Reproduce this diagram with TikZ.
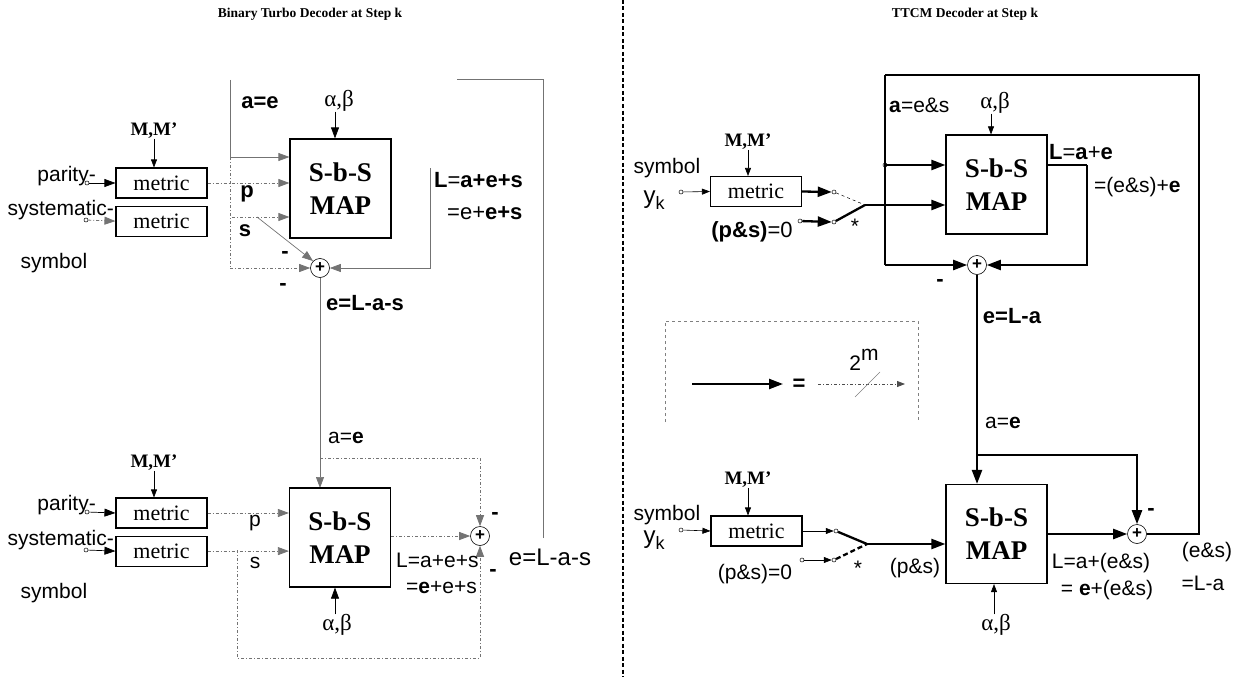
\documentclass[tikz,border=0pt]{standalone}
\usepackage{fontspec}
\setmainfont{Liberation Serif}
\setsansfont{Liberation Sans}
\usetikzlibrary{arrows.meta, positioning, calc}
\newcommand{\sbsmap}{S-b-S\\MAP}
\newcommand{\yk}{y\raisebox{-6pt}{\fontsize{18}{18}\selectfont k}}

\begin{document}
\begin{tikzpicture}[
    x=1pt, y=-1pt,
    mapbox/.style={draw, line width=1.2pt, minimum width=101pt, minimum height=99pt,
                   align=center, inner sep=0pt, font=\fontsize{27}{33}\selectfont\bfseries},
    metricbox/.style={draw, line width=1.1pt, minimum width=91pt, minimum height=30pt,
                      inner sep=0pt, font=\fontsize{22}{24}\selectfont},
    adder/.style={circle, draw, line width=0.6pt, minimum size=19pt, inner sep=0pt,
                  font=\sffamily\bfseries\fontsize{17}{17}\selectfont},
    term/.style={circle, draw, line width=0.5pt, minimum size=4pt, inner sep=0pt},
    lbl/.style={font=\sffamily\fontsize{21}{23}\selectfont, inner sep=0pt},
    blbl/.style={inner sep=0pt, font=\sffamily\bfseries\fontsize{22}{24}\selectfont},
    mlbl/.style={inner sep=0pt, font=\bfseries\fontsize{19}{21}\selectfont},
    glbl/.style={inner sep=0pt, font=\fontsize{23}{25}\selectfont},
    ttl/.style={font=\bfseries\fontsize{13.5}{15}\selectfont},
    arr/.style={-{Triangle[length=11pt,width=8pt]}, line width=0.7pt},
    sarr/.style={-{Triangle[length=8pt,width=6pt]}, line width=0.6pt},
    faint/.style={line width=0.7pt, black!55},
    dotl/.style={line width=0.8pt, black!55, dash pattern=on 3pt off 2pt on 1pt off 2pt},
    thk/.style={line width=2.3pt},
    tarr/.style={thk, -{Triangle[length=14pt,width=10pt]}},
    divider/.style={line width=2pt, dash pattern=on 4pt off 2.5pt},
]
\useasboundingbox (0,0) rectangle (1240,677);

% Titles and divider
\node[ttl] (ttlbin)  at (310,14) {Binary Turbo Decoder at Step k};
\node[ttl] (ttlttcm) at (965,14) {TTCM Decoder at Step k};
\draw[divider] (623,0) -- (623,677);

%% ================= Binary turbo decoder, first decoder
\node[metricbox] (met1) at (161.5,183) {metric};
\node[metricbox, below=7pt of met1] (met2) {metric};
\node[mapbox] (map1) at (340.5,188.5) {\sbsmap};
\node[adder] (add1) at (320,268) {+};

\node[mlbl] (mm1) at (154,131) {M,M’};
\node[term] (t1) at (87,183) {};
\node[term] (t2) at (86,220) {};
\node[lbl, anchor=east] (lpar1) at (96,176) {parity-};
\node[lbl, anchor=east] (lsys1) at (114,210) {systematic-};
\node[lbl] (lsym1) at (54,263) {symbol};
\node[glbl] (ab1) at (339,101) {α,β};

\coordinate (atop) at (230,80);
\coordinate (ajn)  at (230,157);
\coordinate (acor) at (230,268);
\coordinate (sin)  at (232,217);
\coordinate (sdg)  at (257,217);
\coordinate (lout) at (430,168);

\draw[sarr] (mm1.south) -- (mm1.south |- met1.north);
\draw[arr] (t1) -- (met1.west);
\draw[arr, dotl] (t2) -- (met2.west);
\draw[arr] (ab1.south -| 335,0) -- (335,0 |- map1.north);

% a, p, s inputs
\draw[faint] (atop) -- (ajn);
\draw[arr, faint] (ajn) -- (map1.west |- ajn);
\draw[dotl] (ajn) -- (acor);
\draw[arr, dotl] (acor) -- (add1.west);
\draw[arr, dotl] (met1.east) -- (map1.west |- met1.east);
\draw[arr, dotl] (sin) -- (map1.west |- sin);
\draw[arr, faint] (sdg) -- (add1.north west);
\draw[arr, faint] (lout) |- (add1.east);
\draw[arr, faint] (add1.south) -- (add1.south |- 0,488);

\node[blbl] (la1) at (260,103) {\textbf{a}=e};
\node[blbl] (lp1) at (247,194) {p};
\node[blbl] (ls1) at (245,231) {s};
\node[blbl] (lm1) at (285,255) {-};
\node[blbl] (lm2) at (283,287) {-};
\node[blbl, anchor=west] (lL1) at (434,180) {L\textmd{=}a+e+s};
\node[blbl, anchor=west] (lL2) at (447,213) {\textmd{=e+}e+s};
\node[blbl] (le1) at (365,303) {e=L-a-s};
\node[lbl] (la2) at (346,438) {a=\textbf{e}};

%% ================= Binary turbo decoder, second decoder
\node[metricbox] (met3) at (161.5,513) {metric};
\node[metricbox, below=7pt of met3] (met4) {metric};
\node[mapbox] (map2) at (340,537.5) {\sbsmap};
\node[adder] (add2) at (480,536) {+};

\node[mlbl] (mm2) at (154,463) {M,M’};
\node[term] (t3) at (87,512) {};
\node[term] (t4) at (86,550) {};
\node[lbl, anchor=east] (lpar2) at (96,505) {parity-};
\node[lbl, anchor=east] (lsys2) at (114,540) {systematic-};
\node[lbl] (lsym2) at (54,593) {symbol};
\node[glbl] (ab2) at (337,625) {α,β};

\coordinate (sb)   at (237,550);
\coordinate (sbot) at (237,658);
\coordinate (abr)  at (320,458);
\coordinate (ebot) at (543,538);
\coordinate (etop) at (543,79);
\coordinate (eend) at (457,79);

\draw[sarr] (mm2.south) -- (mm2.south |- met3.north);
\draw[arr] (t3) -- (met3.west);
\draw[arr] (t4) -- (met4.west);
\draw[arr] (ab2.north -| 335,0) -- (335,0 |- map2.south);
\draw[arr, dotl] (met3.east) -- (map2.west |- met3.east);
\draw[arr, dotl] (met4.east) -- (map2.west |- met4.east);
\draw[arr, dotl] (sb) -- (sbot) -| (add2.south);
\draw[arr, dotl] (abr) -| (add2.north);
\draw[arr, dotl] (map2.east |- add2) -- (add2.west);
\draw[faint] (ebot) -- (etop) -- (eend);

\node[lbl] (lp2) at (255,523) {p};
\node[lbl] (ls2) at (255,563) {s};
\node[blbl] (lm3) at (495,516) {-};
\node[blbl] (lm4) at (493,573) {-};
\node[lbl, anchor=west] (lL3) at (396,560) {L=a+e+s};
\node[lbl, anchor=west] (lL4) at (406,588) {=\textbf{e}+e+s};
\node[lbl, font=\sffamily\fontsize{24}{26}\selectfont] (le2) at (550,557) {e=L-a-s};

%% ================= TTCM decoder, first decoder
\node[metricbox] (met5) at (756,191.5) {metric};
\node[mapbox] (map3) at (996.5,184.5) {\sbsmap};
\node[adder] (add3) at (977,265) {+};

\node[mlbl] (mm3) at (748,142) {M,M’};
\node[term] (t5) at (681,192) {};
\node[term] (t6) at (800,221) {};
\node[term] (c1) at (834,192) {};
\node[term] (c2) at (834,222) {};
\coordinate (pv1) at (865,205);
\node[lbl] (lsym3) at (667,168) {symbol};
\node[lbl, font=\sffamily\fontsize{24}{26}\selectfont] (ly1) at (654,200) {\yk};
\node[glbl] (ab3) at (995,103) {α,β};

\coordinate (lp) at (885,75);
\coordinate (ajn2) at (885,165);
\coordinate (lpb) at (885,265);
\coordinate (lc) at (1087,165);

\draw[sarr] (mm3.south) -- (mm3.south |- met5.north);
\draw[sarr] (t5) -- (met5.west);
\draw[tarr] (met5.east) -- (c1.west);
\draw[tarr] (t6) -- (c2.west);
\draw[dashed, line width=0.5pt] (c1) -- (pv1);
\draw[thk] (c2) -- (pv1);
\draw[tarr] (pv1) -- (map3.west |- pv1);
\draw[sarr] (ab3.south -| 991,0) -- (991,0 |- map3.north);

% feedback loop
\draw[thk] (lp) -- (lpb);
\draw[tarr] (lpb) -- (add3.west);
\draw[tarr] (ajn2) -- (map3.west |- ajn2);
\node[term] (j1) at (ajn2) {};
\draw[thk] (map3.east |- lc) -- (lc);
\draw[tarr] (lc) |- (add3.east);

\node[lbl, anchor=west] (la3) at (889,105) {\textbf{a}=e\&s};
\node[blbl] (lps1) at (752,232) {(p\&s)\textmd{=0}};
\node[lbl] (lst1) at (855,226) {*};
\node[blbl, anchor=west] (lL5) at (1049,152) {L\textmd{=}a\textmd{+}e};
\node[lbl, anchor=west] (lL6) at (1094,187) {=(e\&s)+\textbf{e}};
\node[blbl] (lm5) at (940,283) {-};

%% ================= TTCM decoder, second decoder
\node[metricbox] (met6) at (756.5,531) {metric};
\node[mapbox] (map4) at (996.5,534) {\sbsmap};
\node[adder] (add4) at (1137,534) {+};

\node[mlbl] (mm4) at (748,480) {M,M’};
\node[term] (t7) at (681,530) {};
\node[term] (t8) at (802,560) {};
\node[term] (c3) at (836,531) {};
\node[term] (c4) at (834,560) {};
\coordinate (pv2) at (867,544);
\node[lbl] (lsym4) at (667,515) {symbol};
\node[lbl, font=\sffamily\fontsize{24}{26}\selectfont] (ly2) at (654,540) {\yk};
\node[glbl] (ab4) at (996,625) {α,β};

\coordinate (bj) at (977,455);
\coordinate (rc) at (1199,534);

\draw[sarr] (mm4.south) -- (mm4.south |- met6.north);
\draw[sarr] (t7) -- (met6.west);
\draw[sarr] (met6.east) -- (c3.west);
\draw[sarr] (t8) -- (c4.west);
\draw[thk] (c3) -- (pv2);
\draw[thk, dash pattern=on 5pt off 3pt] (c4) -- (pv2);
\draw[tarr] (pv2) -- (map4.west |- pv2);
\draw[sarr] (ab4.north -| 994,0) -- (994,0 |- map4.south);

\draw[tarr] (add3.south) -- (add3.south |- map4.north);
\draw[tarr] (bj) -| (add4.north);
\draw[tarr] (map4.east) -- (add4.west);
\draw[thk] (add4.east) -- (rc) |- (lp);

\node[blbl] (le3) at (1012,316) {e=L-a};
\node[lbl] (la4) at (1003,423) {a=\textbf{e}};
\node[lbl] (lps2) at (755,574) {(p\&s)=0};
\node[lbl] (lst2) at (858,568) {*};
\node[lbl] (lps3) at (915,568) {(p\&s)};
\node[blbl] (lm6) at (1151,512) {-};
\node[lbl] (lL7) at (1101,563) {L=a+(e\&s)};
\node[lbl] (lL8) at (1107,590) {= \textbf{e}+(e\&s)};
\node[lbl] (les1) at (1207,552) {(e\&s)};
\node[lbl] (les2) at (1203,583) {=L-a};

%% ================= legend
\coordinate (lg1) at (692,384);
\coordinate (lg2) at (783,384);
\coordinate (lg3) at (818,384);
\coordinate (lg4) at (905,384);
\draw[dashed, gray, line width=0.8pt] (665,422) |- (918,321) -- (918,422);
\draw[tarr] (lg1) -- (lg2);
\node[blbl] (leq) at (799,385) {=};
\draw[sarr, dotl, black!70] (lg3) -- (lg4);
\draw[gray, line width=0.6pt] (855,397) -- (880,372);
\node[lbl] (ltwo) at (864,360) {2\raisebox{10pt}{m}};
\end{tikzpicture}
\end{document}
